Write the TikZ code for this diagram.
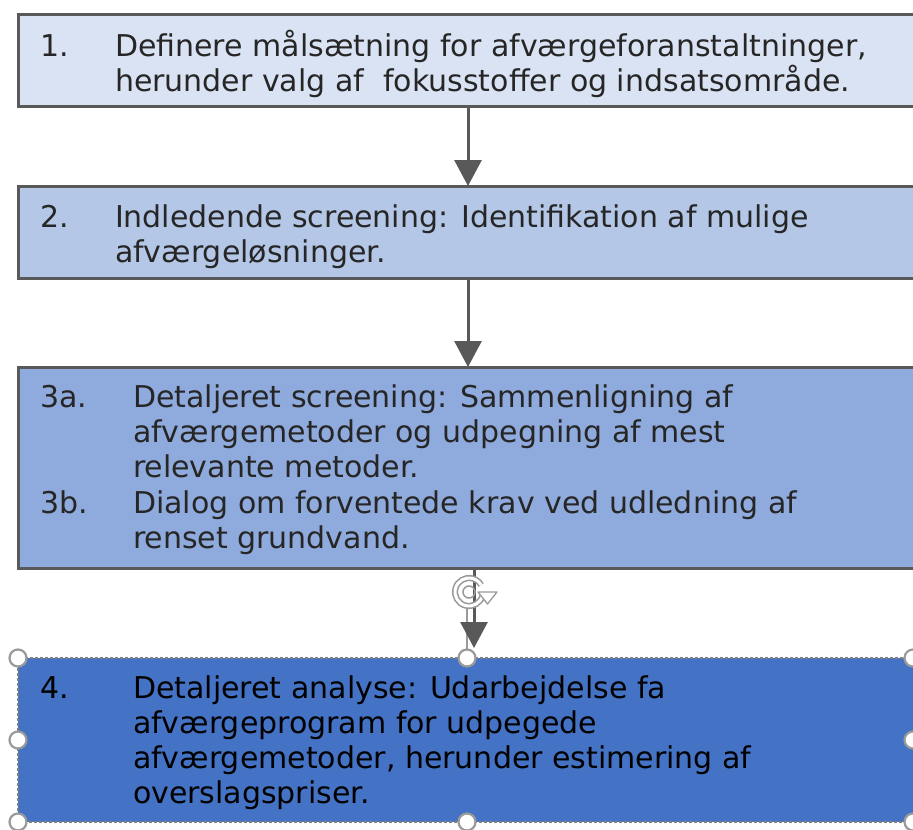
\documentclass[tikz,border=0pt]{standalone}
\usepackage{fontspec}
\setmainfont{DejaVu Sans}
\usetikzlibrary{arrows.meta}
\definecolor{bxone}{HTML}{DAE3F3}
\definecolor{bxtwo}{HTML}{B4C7E7}
\definecolor{bxthree}{HTML}{8FAADC}
\definecolor{bxfour}{HTML}{4472C4}
\definecolor{bordergray}{HTML}{595959}
\definecolor{arrowgray}{HTML}{595959}
\definecolor{txtcol}{HTML}{262626}
\definecolor{handlegray}{HTML}{9A9A9A}
\definecolor{selgray}{HTML}{7F7F7F}
\begin{document}
\begin{tikzpicture}[x=1pt,y=-1pt,
  stepbox/.style={draw=bordergray, line width=3pt, anchor=north west, minimum width=1000pt, inner sep=0pt, outer sep=0pt},
  txt/.style={anchor=base west, inner sep=0pt, outer sep=0pt, text=txtcol, font=\fontsize{30}{35.3}\selectfont},
  flow/.style={draw=arrowgray, line width=3pt, -{Triangle[width=27pt,length=26pt]}},
  handle/.style={circle, draw=handlegray, fill=white, line width=2.2pt, minimum size=17pt, inner sep=0pt}]
\useasboundingbox (0,0) rectangle (913,830);
\clip (0,0) rectangle (913,830);
\fill[white] (0,0) rectangle (913,830);
% boxes
\node[stepbox, fill=bxone, minimum height=92pt] (b1) at (18,14) {};
\node[stepbox, fill=bxtwo, minimum height=92pt] (b2) at (18,186) {};
\node[stepbox, fill=bxthree, minimum height=201pt] (b3) at (18,367) {};
\node[stepbox, fill=bxfour, draw=none, minimum height=164pt] (b4) at (18,658) {};
\draw[selgray, line width=2.2pt, densely dashed] (b4.north east) -- (b4.north west) -- (b4.south west) -- (b4.south east);
% texts
\node[txt] (n1) at (40,56) {1.};
\node[txt] (t1) at (115,56) {\parbox[t]{790pt}{\raggedright Definere målsætning for afværgeforanstaltninger,\\herunder valg af\ \ fokusstoffer og indsatsområde.}};
\node[txt] (n2) at (40,227) {2.};
\node[txt] (t2) at (115,227) {\parbox[t]{790pt}{\raggedright Indledende screening: Identifikation af mulige\\afværgeløsninger.}};
\node[txt] (n3a) at (40,407) {3a.};
\node[txt] (t3a) at (133,407) {\parbox[t]{770pt}{\raggedright Detaljeret screening: Sammenligning af\\afværgemetoder og udpegning af mest\\relevante metoder.}};
\node[txt] (n3b) at (40,513) {3b.};
\node[txt] (t3b) at (133,513) {\parbox[t]{770pt}{\raggedright Dialog om forventede krav ved udledning af\\renset grundvand.}};
\node[txt, text=black] (n4) at (40,698) {4.};
\node[txt, text=black] (t4) at (133,698) {\parbox[t]{770pt}{\raggedright Detaljeret analyse: Udarbejdelse fa\\afværgeprogram for udpegede\\afværgemetoder, herunder estimering af\\overslagspriser.}};
% arrows
\coordinate (ax) at (468,0);
\coordinate (bx) at (474,0);
\coordinate (tip4) at (474,648);
\draw[flow] (ax |- b1.south) -- (ax |- b2.north);
\draw[flow] (ax |- b2.south) -- (ax |- b3.north);
% selection connector and rotation handle
\coordinate (rot) at (469,592);
\draw[handlegray, line width=1.2pt] (467,608) -- (467,658);
\draw[flow] (bx |- b3.south) -- (tip4);
\draw[handlegray, double=white, double distance=3pt, line width=1.6pt] ([shift={(15:14)}]rot) arc[start angle=15, end angle=330, radius=14];
\fill[white, draw=handlegray, line width=1.3pt, line join=round] (478,592) -- (497,592) -- (487.5,604) -- cycle;
\draw[handlegray, line width=1.5pt] (rot) circle[radius=6];
% selection handles
\node[handle] (h1) at (b4.north west) {};
\node[handle] (h2) at (467,658) {};
\node[handle] (h3) at (913,658) {};
\node[handle] (h4) at (18,740) {};
\node[handle] (h5) at (913,740) {};
\node[handle] (h6) at (b4.south west) {};
\node[handle] (h7) at (467,822) {};
\node[handle] (h8) at (913,822) {};
\end{tikzpicture}
\end{document}
